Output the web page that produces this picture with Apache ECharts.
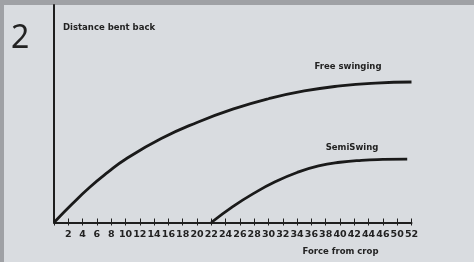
<!DOCTYPE html>
<html>
<head>
<meta charset="utf-8">
<script src="https://cdn.jsdelivr.net/npm/echarts@6/dist/echarts.min.js"></script>
<style>
html,body{margin:0;padding:0;background:#9fa1a5;}
#frame{position:absolute;left:4px;top:5px;width:470px;height:257px;background:#d9dce0;}
#chart{position:absolute;left:0;top:0;width:474px;height:262px;}
</style>
</head>
<body>
<div id="frame"></div>
<div id="chart"></div>
<script>
const tickLabels = ['2','4','6','8','10','12','14','16','18','20','22','24','26','28','30','32','34','36','38','40','42','44','46','50','52'];
const freeX = [0, 2.5, 5, 7.5, 10, 15, 20, 25, 30, 35, 40, 45, 50];
const freeY = [0, 8.4, 16.2, 23.0, 29.1, 38.6, 46, 52.1, 56.9, 60.5, 62.8, 64.1, 64.6];
const semiX = [22, 25, 28, 31, 34, 37, 40, 43, 46, 49.4];
const semiY = [0, 7.3, 13.5, 18.8, 23.0, 26.0, 27.7, 28.6, 29.0, 29.15];
const seriesNames = ['Free swinging', 'SemiSwing'];

const FONT = '"DejaVu Sans", "Liberation Sans", sans-serif';
const chart = echarts.init(document.getElementById('chart'));
const lab = {fontFamily:FONT, fontWeight:'bold', color:'#222'};
chart.setOption({
  animation:false,
  backgroundColor:'transparent',
  grid:{left:54, right:62.5, top:5, bottom:39.5},
  xAxis:[{
    type:'value', min:0, max:50, interval:2,
    axisLine:{show:true, lineStyle:{color:'#1e1e1e', width:2}},
    axisTick:{show:true, inside:true, length:4, lineStyle:{color:'#1e1e1e', width:1}},
    splitLine:{show:false},
    axisLabel:Object.assign({fontSize:9.5, margin:7, showMinLabel:false,
      formatter:v => v === 0 ? '' : tickLabels[v/2 - 1]}, lab),
    name:'Force from crop', nameLocation:'end',
    nameTextStyle:Object.assign({fontSize:8.5, align:'center', verticalAlign:'top', padding:[25,0,0,0]}, lab),
    nameGap:-71
  },{
    type:'value', min:0, max:50, interval:2, position:'bottom',
    axisLine:{show:false},
    axisTick:{show:true, inside:false, length:3, lineStyle:{color:'#1e1e1e', width:1}},
    axisLabel:{show:false}, splitLine:{show:false}
  }],
  yAxis:{
    type:'value', min:0, max:100,
    axisLine:{show:true, lineStyle:{color:'#1e1e1e', width:2}},
    axisTick:{show:false}, axisLabel:{show:false}, splitLine:{show:false}
  },
  series:[{
    name:seriesNames[0], type:'line', smooth:true, symbol:'none',
    data:freeX.map((x,i)=>[x,freeY[i]]),
    lineStyle:{color:'#1a1a1a', width:2.8}
  },{
    name:seriesNames[1], type:'line', smooth:true, symbol:'none',
    data:semiX.map((x,i)=>[x,semiY[i]]),
    lineStyle:{color:'#1a1a1a', width:2.8}
  }],
  graphic:[
    {type:'text', left:11, top:23, style:{text:'2', font:'32px "Noto Sans", "Open Sans", sans-serif', fill:'#222'}},
    {type:'text', left:63, top:23, style:{text:'Distance bent back', font:'bold 8.5px ' + FONT, fill:'#222'}},
    {type:'text', x:348, y:67, style:{text:seriesNames[0], font:'bold 8.5px ' + FONT, fill:'#222', align:'center', verticalAlign:'middle'}},
    {type:'text', x:352, y:148, style:{text:seriesNames[1], font:'bold 8.5px ' + FONT, fill:'#222', align:'center', verticalAlign:'middle'}}
  ]
});
</script>
</body>
</html>
